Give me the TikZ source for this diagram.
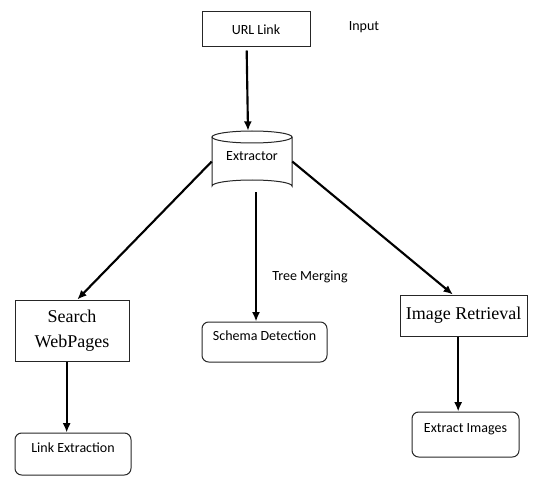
\documentclass[tikz,border=0pt]{standalone}
\usepackage{fontspec}
\setmainfont{Liberation Serif}
\newfontfamily\calfont{Carlito}
\usetikzlibrary{arrows.meta}
\begin{document}
\begin{tikzpicture}[x=0.75pt,y=-0.75pt,
  box/.style={draw=black!85,line width=0.75pt,inner sep=0pt},
  calbox/.style={box,font=\calfont\fontsize{10.5pt}{12pt}\selectfont},
  serifbox/.style={box,font=\fontsize{13.5pt}{19pt}\selectfont,align=center},
  roundbox/.style={calbox,rounded corners=5pt},
  lbl/.style={font=\calfont\fontsize{10.5pt}{12pt}\selectfont,inner sep=0pt},
  arr/.style={line width=1.6pt,-{Latex[length=7pt,width=6pt]}}]
\useasboundingbox (0,0) rectangle (534,477);
% URL link
\node[calbox,minimum width=108*0.75pt,minimum height=35*0.75pt] (url) at (256,29.5) {URL Link};
\node[lbl] (inp) at (364,27) {Input};
% cylinder
\node[minimum width=80*0.75pt,minimum height=61*0.75pt,inner sep=0pt] (ext) at (252,161.5) {};
\draw[black!85,line width=0.75pt,fill=white] (212,137) -- (212,186) arc[start angle=180,end angle=360,x radius=40,y radius=6] -- (292,137);
\draw[black!85,line width=0.75pt] (252,137) ellipse[x radius=40,y radius=6];
\node[lbl] (extlbl) at (252,156) {Extractor};
% second level
\node[serifbox,minimum width=114*0.75pt,minimum height=61*0.75pt] (sw) at (72,330.5) {Search\\WebPages};
\node[roundbox,minimum width=125*0.75pt,minimum height=40*0.75pt,text depth=9pt] (sd) at (264.5,342) {Schema Detection};
\node[serifbox,minimum width=127*0.75pt,minimum height=41*0.75pt] (ir) at (463.5,315.5) {Image Retrieval};
\node[lbl] (tm) at (310,277) {Tree Merging};
% third level
\node[roundbox,minimum width=116*0.75pt,minimum height=42*0.75pt,text depth=9pt] (le) at (73,454) {Link Extraction};
\node[roundbox,minimum width=107*0.75pt,minimum height=45*0.75pt,text depth=9pt] (ei) at (465.5,434.5) {Extract Images};
% connectors
\draw[arr] ([xshift=-7]url.south) ++(0,3) -- ([xshift=-3]ext.north);
\draw[arr] (ext.west) -- ([xshift=4]sw.north);
\draw[arr] (ext.east) -- ([xshift=-8]ir.north);
\draw[arr] ([xshift=3]ext.south) -- ([xshift=3]ext.south |- sd.north);
\draw[arr] ([xshift=-4]sw.south) -- ([xshift=-4]sw.south |- le.north);
\draw[arr] ([xshift=-4]ir.south) -- ([xshift=-4]ir.south |- ei.north);
\end{tikzpicture}
\end{document}
